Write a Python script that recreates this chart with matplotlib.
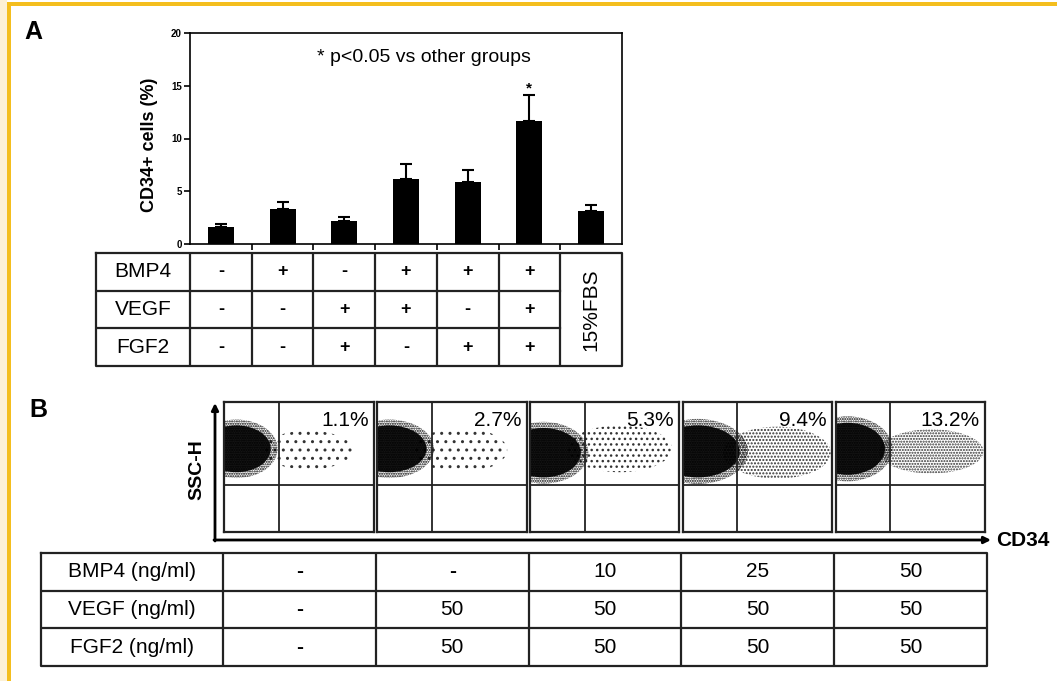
import numpy as np
import matplotlib
matplotlib.use("Agg")
import matplotlib.pyplot as plt
from matplotlib.patches import Ellipse, Rectangle

plt.rcParams["font.family"] = ["Liberation Sans", "DejaVu Sans"]
plt.rcParams["hatch.linewidth"] = 1.0

# ---- panel A data ----
groups = ["1", "2", "3", "4", "5", "6", "15%FBS"]
cd34_mean = [1.6, 3.3, 2.2, 6.2, 5.85, 11.7, 3.1]
cd34_err = [0.3, 0.7, 0.4, 1.35, 1.15, 2.4, 0.55]
y_ticks = [0, 5, 10, 15, 20]

row_names_a = ["BMP4", "VEGF", "FGF2"]
bmp4 = ["-", "+", "-", "+", "+", "+"]
vegf = ["-", "-", "+", "+", "-", "+"]
fgf2 = ["-", "-", "+", "-", "+", "+"]

# ---- panel B data ----
flow_pct = ["1.1%", "2.7%", "5.3%", "9.4%", "13.2%"]
# dense cluster (CD34- region) and CD34+ tail, in plot fraction units
core_x = [0.08, 0.08, 0.09, 0.10, 0.08]
core_y = [0.64, 0.64, 0.61, 0.62, 0.64]
core_w = [0.46, 0.50, 0.50, 0.56, 0.50]
core_h = [0.36, 0.36, 0.38, 0.40, 0.40]
tail_x = [0.56, 0.56, 0.60, 0.63, 0.64]
tail_y = [0.63, 0.63, 0.64, 0.61, 0.62]
tail_w = [0.60, 0.62, 0.70, 0.72, 0.70]
tail_h = [0.30, 0.34, 0.36, 0.40, 0.34]

row_names_b = ["BMP4 (ng/ml)", "VEGF (ng/ml)", "FGF2 (ng/ml)"]
bmp4_dose = ["-", "-", "10", "25", "50"]
vegf_dose = ["-", "50", "50", "50", "50"]
fgf2_dose = ["-", "50", "50", "50", "50"]

W, H = 1057, 681
fig = plt.figure(figsize=(W / 100, H / 100), dpi=100)


def px_axes(x0, y0, x1, y1):
    return fig.add_axes([x0 / W, 1 - y1 / H, (x1 - x0) / W, (y1 - y0) / H])


# overlay for frame, letters and arrows
ov = fig.add_axes([0, 0, 1, 1], zorder=-1)
ov.set_xlim(0, W)
ov.set_ylim(H, 0)
ov.axis("off")
ov.add_patch(Rectangle((0, 0), 7, H, facecolor="#FDF1D6", edgecolor="none"))
ov.add_patch(Rectangle((7, 1.5), 3.5, H, facecolor="#F4BE1E", edgecolor="none"))
ov.add_patch(Rectangle((7, 1.5), W, 4, facecolor="#F4BE1E", edgecolor="none"))
ov.text(33, 32, "A", fontsize=18, fontweight="bold", ha="center", va="center")
ov.text(38, 410, "B", fontsize=18, fontweight="bold", ha="center", va="center")

# ---- bar chart ----
ax = px_axes(190, 33, 622, 244)
x = np.arange(len(cd34_mean))
ax.bar(x, cd34_mean, width=0.42, color="black")
ax.errorbar(x, cd34_mean, yerr=[np.zeros(len(x)), cd34_err], fmt="none",
            ecolor="black", elinewidth=1.5, capsize=4, capthick=1.5)
ax.set_xlim(-0.5, len(x) - 0.5)
ax.set_ylim(0, 20)
ax.set_yticks(y_ticks)
ax.set_yticklabels([str(t) for t in y_ticks], fontsize=7, fontweight="bold")
ax.set_xticks(np.arange(0.5, len(x) - 1, 1.0))
ax.set_xticklabels([])
ax.tick_params(direction="out", length=4, width=1.2, pad=2)
for s in ax.spines.values():
    s.set_linewidth(1.2)
ax.set_ylabel("CD34+ cells (%)", fontsize=13, fontweight="bold")
ax.yaxis.set_label_coords(-0.074, 0.47)
ax.text(3.29, 17.7, "* p<0.05 vs other groups", fontsize=14, ha="center", va="center")
best = int(np.argmax(cd34_mean))
ax.annotate("*", (best, cd34_mean[best] + cd34_err[best]), xytext=(0, 0),
            textcoords="offset points", ha="center", va="bottom",
            fontsize=11, fontweight="bold")

# ---- table A ----
lab_w = (190 - 96) / ((622 - 190) / 7)
ta = px_axes(96, 253, 622, 366)
ta.set_xlim(-0.5 - lab_w, 6.5)
ta.set_ylim(3, 0)
ta.axis("off")
lw_t = 1.6
left = -0.5 - lab_w
ta.plot([left, 6.5, 6.5, left, left], [0, 0, 3, 3, 0], color="#222", lw=lw_t, clip_on=False)
for r in (1, 2):
    ta.plot([left, 5.5], [r, r], color="#222", lw=lw_t)
for c in np.arange(-0.5, 6.0, 1.0):
    ta.plot([c, c], [0, 3], color="#222", lw=lw_t)
for r, (name, vals) in enumerate(zip(row_names_a, [bmp4, vegf, fgf2])):
    ta.text((left - 0.5) / 2, r + 0.5, name, fontsize=15, ha="center", va="center")
    for c, v in enumerate(vals):
        ta.text(c, r + 0.5, v, fontsize=13, fontweight="bold", ha="center", va="center")
ta.text(6, 1.5, groups[-1], fontsize=15, rotation=90, ha="center", va="center")

# ---- panel B flow plots ----
col_w = (987 - 223) / 5
edges = [223 + k * col_w for k in range(6)]
for i in range(5):
    fa = px_axes(edges[i] + 1.5, 402, edges[i + 1] - 2, 532)
    fa.set_xlim(0, 1)
    fa.set_ylim(0, 1)
    fa.set_xticks([])
    fa.set_yticks([])
    for s in fa.spines.values():
        s.set_linewidth(1.6)
        s.set_color("#222")
    pct = float(flow_pct[i].rstrip("%"))
    dens = "." * (2 + int(pct // 3))
    fa.add_patch(Ellipse((tail_x[i], tail_y[i]), tail_w[i], tail_h[i],
                         facecolor="none", edgecolor="#333", lw=0, hatch=dens))
    fa.add_patch(Ellipse((core_x[i], core_y[i]), core_w[i] * 1.2, core_h[i] * 1.25,
                         facecolor="none", edgecolor="black", lw=0, hatch="......."))
    fa.add_patch(Ellipse((core_x[i], core_y[i]), core_w[i], core_h[i],
                         facecolor="black", edgecolor="none", alpha=0.92))
    fa.axvline(0.365, color="#222", lw=1.3)
    fa.axhline(0.36, color="#222", lw=1.3)
    fa.text(0.965, 0.93, flow_pct[i], fontsize=15, ha="right", va="top")

arrow = dict(arrowstyle="-|>", lw=2, color="black", mutation_scale=10, shrinkA=0, shrinkB=0)
ov.annotate("", xy=(215, 403), xytext=(215, 541), arrowprops=arrow)
ov.annotate("", xy=(991, 540), xytext=(214, 540), arrowprops=arrow)
ov.text(197, 470, "SSC-H", fontsize=14, fontweight="bold", rotation=90, ha="center", va="center")
ov.text(996, 541, "CD34", fontsize=15, fontweight="bold", ha="left", va="center")

# ---- table B ----
lab_wb = (223 - 41) / col_w
tb = px_axes(41, 553, 987, 666)
tb.set_xlim(-0.5 - lab_wb, 4.5)
tb.set_ylim(3, 0)
tb.axis("off")
leftb = -0.5 - lab_wb
tb.plot([leftb, 4.5, 4.5, leftb, leftb], [0, 0, 3, 3, 0], color="#222", lw=lw_t, clip_on=False)
for r in (1, 2):
    tb.plot([leftb, 4.5], [r, r], color="#222", lw=lw_t)
for c in np.arange(-0.5, 4.0, 1.0):
    tb.plot([c, c], [0, 3], color="#222", lw=lw_t)
for r, (name, vals) in enumerate(zip(row_names_b, [bmp4_dose, vegf_dose, fgf2_dose])):
    tb.text((leftb - 0.5) / 2, r + 0.5, name, fontsize=15, ha="center", va="center")
    for c, v in enumerate(vals):
        tb.text(c, r + 0.5, v, fontsize=15, ha="center", va="center",
                fontweight="bold" if v == "-" else "normal")

fig.savefig("out.png", dpi=100)
